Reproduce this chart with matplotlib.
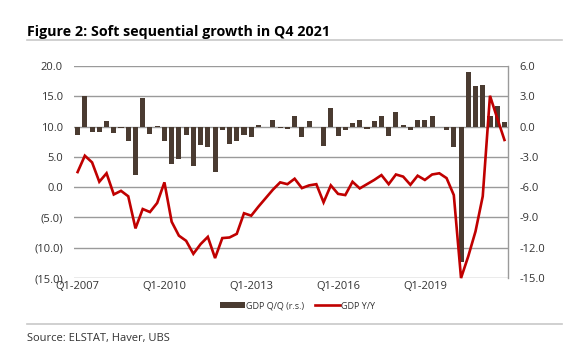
import matplotlib
matplotlib.use("Agg")
import matplotlib.pyplot as plt
from matplotlib.patches import Patch
from matplotlib.lines import Line2D
from matplotlib.ticker import FuncFormatter, FixedLocator

# ---- data ----
quarters = [f"Q{q}-{y}" for y in range(2007, 2022) for q in range(1, 5)]
tick_labels = ["Q1-2007", "Q1-2010", "Q1-2013", "Q1-2016", "Q1-2019"]

gdp_qq = [-0.8, 3.0, -0.55, -0.5, 0.6, -0.6, -0.1, -1.4, -4.75, 2.8,
          -0.7, 0.1, -1.4, -3.7, -3.2, -0.8, -3.9, -1.8, -2.0, -4.5,
          -0.3, -1.7, -1.45, -0.8, -1.0, 0.13, -0.03, 0.65, -0.1, -0.2,
          1.1, -1.05, 0.6, -0.05, -1.9, 1.8, -0.95, -0.3, 0.35, 0.65,
          -0.2, 0.55, 1.1, -0.9, 1.45, 0.13, -0.3, 0.7, 0.7, 1.1,
          -0.07, -0.3, -2.0, -13.4, 5.4, 4.0, 4.15, 1.1, 2.0, 0.5]

gdp_yy = [2.5, 5.2, 4.1, 0.9, 2.3, -1.2, -0.6, -1.5, -6.8, -3.6,
          -4.1, -2.6, 0.8, -5.7, -8.0, -8.85, -11.0, -9.4, -8.2, -11.7,
          -8.4, -8.3, -7.7, -4.3, -4.7, -3.2, -1.8, -0.4, 0.8, 0.5,
          1.4, -0.15, 0.3, 0.5, -2.5, 0.3, -1.1, -1.3, 0.9, -0.2,
          0.5, 1.2, 2.0, 0.5, 2.1, 1.75, 0.4, 1.9, 1.2, 2.1,
          2.3, 1.5, -1.3, -15.0, -11.4, -7.3, -1.5, 15.1, 11.4, 7.8]

left_ticks = [-15, -10, -5, 0, 5, 10, 15, 20]
right_ticks = [-15, -12, -9, -6, -3, 0, 3, 6]

# ---- style ----
plt.rcParams['font.family'] = ['Open Sans', 'DejaVu Sans']
bar_color = "#4a3b31"
line_color = "#c00000"
grid_color = "#9a9a9a"
text_color = "#333333"

fig = plt.figure(figsize=(5.78, 3.63), dpi=100)
ax = fig.add_axes([0.128, 0.234, 0.751, 0.584])
ax2 = ax.twinx()

x = list(range(len(quarters)))
ax2.bar(x, gdp_qq, width=0.7, color=bar_color, zorder=3)
ax.plot(x, gdp_yy, color=line_color, lw=1.9, zorder=4, clip_on=False,
        solid_joinstyle='miter')

ax.set_xlim(-0.5, len(quarters) - 0.5)
ax.set_ylim(-15, 20)
ax2.set_ylim(-15, 6)

ax.yaxis.set_major_locator(FixedLocator(left_ticks))
ax2.yaxis.set_major_locator(FixedLocator(right_ticks))

def left_fmt(v, pos):
    return f"({abs(v):.1f})" if v < 0 else f"{v:.1f}"

ax.yaxis.set_major_formatter(FuncFormatter(left_fmt))
ax2.yaxis.set_major_formatter(FuncFormatter(lambda v, p: f"{v:.1f}"))

tick_pos = [quarters.index(t) for t in tick_labels]
ax.set_xticks(tick_pos)
ax.set_xticklabels(tick_labels)

ax.set_zorder(2)
ax2.set_zorder(1)
ax.patch.set_visible(False)

ax2.grid(axis='y', color=grid_color, lw=1.0, zorder=0)
ax2.set_axisbelow(True)

for a in (ax, ax2):
    for s in a.spines.values():
        s.set_visible(False)
    a.tick_params(length=0, labelsize=8, colors=text_color)
ax2.spines['right'].set_visible(True)
ax2.spines['right'].set_color(grid_color)
ax2.spines['right'].set_linewidth(1.0)
ax.tick_params(axis='y', pad=8)
ax2.tick_params(axis='y', pad=8)
ax.tick_params(axis='x', pad=2)

# legend
handles = [Patch(facecolor=bar_color, label="GDP Q/Q (r.s.)"),
           Line2D([0], [0], color=line_color, lw=1.9, label="GDP Y/Y")]
fig.legend(handles=handles, loc='center', bbox_to_anchor=(0.515, 0.157),
           ncol=2, frameon=False, fontsize=6.5, handlelength=2.8,
           handleheight=0.6, handletextpad=0.1, columnspacing=1.2,
           labelcolor=text_color)

# title and source
fig.text(0.046, 0.912, "Figure 2: Soft sequential growth in Q4 2021",
         fontsize=10.3, fontweight='bold', color='black', va='center')
fig.add_artist(Line2D([0.046, 0.972], [0.89, 0.89], transform=fig.transFigure,
                      color="#c8c8c8", lw=1.2))
fig.add_artist(Line2D([0.046, 0.972], [0.108, 0.108], transform=fig.transFigure,
                      color="#c8c8c8", lw=1.2))
fig.text(0.046, 0.068, "Source: ELSTAT, Haver, UBS", fontsize=8,
         color=text_color, va='center')

fig.savefig("out.png", dpi=100)
